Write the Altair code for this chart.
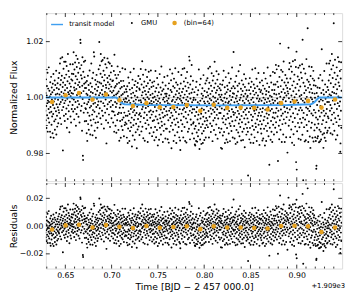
import altair as alt
import numpy as np
import pandas as pd

# ---------------- data ----------------
# observation grid: first exposure and cadence (64 exposures per orange bin)
t_start = 0.6285
cadence = 0.01455 / 64

# residuals (flux - transit model) in units of 1e-4, one list per 64-point bin
bin01 = [-47, 16, -81, 65, -30, -109, 7, 41, -63, -20, 89, -122, -11, 32, -74, -41, 108, -16, -89, 24, -54, 4, -122, 55, -34, -142, 12, 74, -51, -97, 36, -7, -68, 19, -128, 49, -27, -59, 84, -144, -14, 27, -85, -38, 61, -115, -4, 45, -78, 11, -49, 96, -132, -24, 34, -65, -104, 14, 51, -35, -8, -92, 70, -45]
bin02 = [30, -54, 88, 11, -24, 122, -74, 46, 140, -16, 63, -95, 20, 4, 78, -45, 144, -8, 38, -189, 54, -34, 103, 15, -65, 128, -20, 70, -84, 26, 45, -11, 128, -59, 8, 82, -39, 113, -108, 34, -4, 58, -77, 156, 19, -28, 95, -49, 12, 74, -124, 50, -15, 24, 119, -68, 5, 39, -89, 65, 16, -41, 85, -3]
bin03 = [61, -27, 119, 14, -50, 84, 162, -7, 36, -78, 100, 26, -41, 125, 51, -16, 76, -101, 150, 31, -59, 109, 9, 65, -35, 138, -12, 45, 89, -69, 19, 124, -24, 55, -89, 38, 104, 4, 207, 195, -47, 80, 16, 116, -30, 68, -119, 42, 144, -5, -208, -223, 92, 23, -54, 128, 49, -20, 73, -85, 34, 132, -38, 54]
bin04 = [-41, 34, -84, 14, -128, 59, -24, -155, 9, -54, 78, -95, -16, 45, -115, 27, -7, -65, 97, -36, 5, -132, 51, -81, 20, -30, 122, -100, -11, 39, -61, 69, -135, 16, -45, 89, -22, -78, 162, 0, 147, -51, -119, 31, -19, 63, -90, 11, -144, 47, -34, 81, -68, -4, 24, -108, 57, -27, -88, 38, -14, 101, -57, 8]
bin05 = [199, 54, -38, 115, 16, -74, 85, 156, -14, 50, -95, 130, 27, -47, 73, 11, 134, -65, 41, -20, 96, 3, -111, 61, 142, -30, 81, 20, -54, 119, -7, 45, -81, 35, -164, 107, 15, -41, 70, 140, -24, 55, -90, 8, 126, 32, -61, 78, -16, 47, 122, -105, 23, 65, -34, 90, -11, 39, -74, 113, 18, -49, 59, 1]
bin06 = [-27, 61, -89, 24, -51, 95, 7, -122, 153, 36, -63, -16, 81, -101, 41, -34, 11, -126, 70, -20, 51, -78, 19, 116, -54, -3, 88, -108, 30, -45, 63, -144, 14, -24, 105, -70, 47, -9, -128, 76, -38, 26, -84, 57, 4, -59, 126, -95, 34, -14, 82, -49, 16, -115, 65, -30, 43, -74, 9, 125, -65, 22, -41, 54]
bin07 = [20, -70, 45, -119, 8, 65, -41, -138, 30, -86, 96, -24, -58, 14, 77, -131, -34, 53, -95, 5, 115, -65, -16, 38, -81, 24, -47, -150, 59, -11, 89, -111, -27, 42, -74, 12, 128, -54, -20, 70, -126, 32, -38, 4, 84, -99, 18, -68, 49, -30, -156, 63, -7, 27, -89, 78, -51, 0, 103, -78, 15, -36, 58, -108]
bin08 = [54, -30, 92, -61, 16, 128, -41, 9, -95, 73, 34, -16, 156, -78, 45, -7, 108, -119, 24, 62, -47, 3, 84, -27, -128, 50, 19, -65, 126, -11, 38, -85, 68, 12, -36, 100, -54, 28, -132, 78, -4, 47, -70, 119, 22, -24, 58, -101, 7, 89, -45, 36, -19, 124, -81, 15, 65, -34, 4, -111, 81, 41, -57, 26]
bin09 = [-24, 68, -97, 11, -54, 85, -126, 30, -7, -78, 49, 122, -41, 19, -115, 61, -20, 4, -89, 97, -51, 34, -144, 14, 74, -65, -11, 46, -124, 24, -34, 111, -81, 8, -47, 63, -16, -105, 38, 138, -59, 0, -74, 51, -27, 81, -132, 20, -43, 57, -92, 27, -14, 101, -68, 12, -38, 41, -119, 70, -5, -84, 32, -22]
bin10 = [41, -84, 16, -34, 105, -122, 7, 59, -54, 24, -134, 78, -20, 35, -95, 3, 128, -45, -11, 54, -74, 89, -27, -154, 47, 14, -63, 113, -38, 19, -88, 68, -4, -128, 30, 95, -51, -16, 62, -108, 11, 132, -70, 38, -24, 81, -135, 20, -47, 51, -8, -97, 73, 27, -61, 4, 119, -78, -32, 43, -115, 59, -14, 22]
bin11 = [-126, -160, 34, 78, -54, 16, 108, -30, -92, 47, 9, -68, 130, -16, 59, -115, 27, -41, 85, -11, 132, -78, 38, 5, -128, 68, -24, 97, -47, 20, -133, 51, -7, 119, -61, 30, 81, -95, 14, -34, 63, 3, -84, 174, 41, 160, -20, -122, 74, 24, -51, 104, -4, -70, 45, 144, -27, 11, -101, 57, -14, 88, -65, 19]
bin12 = [-61, 27, -119, -14, 47, -84, -140, -38, -144, 20, -74, 65, -128, -24, 84, -97, -7, -130, 38, -51, 11, -111, 54, -34, -88, 128, -65, 4, -156, -20, 74, -122, 16, -47, 95, -78, -30, -138, 41, -11, -101, 24, 61, -68, -135, 34, -41, 108, -92, -16, 14, -124, 51, -57, 7, -81, 78, -27, -115, 30, -45, 89, -70, -3]
bin13 = [47, -54, 97, 14, -78, 35, 132, -20, 59, -115, 7, 81, -41, 24, 138, -65, 41, -11, -95, 70, 18, -30, 115, -74, 51, 3, -128, 89, -16, 32, -54, 105, 11, -88, 63, -24, 156, -45, 27, -7, 78, -105, 45, 15, -68, 122, -34, 54, -14, 92, -119, 22, 68, -47, 8, 111, -81, 38, -27, 61, -4, -97, 76, 30]
bin14 = [-27, 54, -152, 20, -84, 38, -11, -155, 74, -47, 16, -108, 89, -61, 4, 124, -38, -95, 27, -16, 65, -135, 41, -68, 11, 101, -51, -7, -122, 47, 24, -81, 70, -30, -132, 57, 8, -45, 115, -101, 14, -20, 81, -65, 34, -128, 51, 3, -74, 95, -41, 19, -92, 61, -14, 135, -57, 30, -115, 43, -24, 68, 191, -34]
bin15 = [41, -74, 11, -119, 61, -27, 84, -54, -138, 24, -7, 105, -88, 34, -43, 14, -132, 70, -20, 49, -97, 5, 122, -65, -30, 78, -111, 19, -51, 144, -78, 27, -14, 59, -126, 38, -38, 89, -61, 0, -95, 51, 16, -124, 74, -24, 32, -84, 111, -47, 8, -150, 65, -16, 41, -68, 95, -34, 22, -105, 54, -11, -81, 30]
bin16 = [-47, 34, -95, -251, 16, -61, 78, -24, 54, -122, 7, 97, -81, -11, 41, -134, 65, -34, 20, -105, 84, -54, -4, 128, -74, 27, -41, 51, -135, 11, 74, -88, -20, 38, -115, 61, -30, 132, -65, 3, -78, 45, -16, 95, -128, 24, -51, 68, -7, -97, 35, -38, 115, -70, 14, -27, 57, -142, 22, 81, -57, -14, 47, -84]
bin17 = [-38, 54, -101, 16, -68, 88, -24, -126, 41, -11, 70, -119, 27, -54, 115, -84, 7, -41, 59, -144, 20, -16, 95, -74, 38, -128, 51, -30, 11, -92, 78, -47, 135, -65, 24, -7, -111, 47, -34, 65, -213, 14, -81, 34, -20, 105, -124, 3, -57, 81, -95, 30, -14, 54, -132, 19, -43, 119, -70, 8, -27, 74, -105, 41]
bin18 = [54, -47, 115, 16, -81, 74, -27, 144, -61, 38, -11, 128, -97, 24, 84, -41, 7, -200, 65, -20, 140, -74, 41, -122, 101, 11, -54, 220, 30, -88, 68, -16, 126, -38, 47, -132, 89, 3, -68, 119, -30, 20, -105, 57, 156, -51, 27, -7, 81, -132, 43, -24, 108, -65, 14, 70, -115, 34, -43, 95, -11, 61, -170, 49]
bin19 = [-27, 81, 41, 205, -74, 24, 128, -54, 150, -16, 57, -115, 95, 11, -41, 138, -88, 34, -7, 119, -135, 70, 19, -61, 156, -30, 49, -105, 84, 3, -144, 108, 27, -47, 160, -78, 61, -14, 135, -205, 38, 190, -232, 16, -95, 74, -34, 101, -65, 7, 132, -122, 51, -20, 89, -81, 30, 140, -51, 65, -11, -126, 115, 20]
bin20 = [34, -65, 95, -20, 144, -108, 232, 14, -47, -271, 78, -30, 128, -81, 41, 7, -132, 65, -54, 111, 20, -128, 51, -11, 162, -74, 27, -38, 88, -95, 272, -16, 59, -135, 11, 81, -61, 135, -24, 43, -115, 70, -7, -156, 101, 24, -84, 54, -34, 132, -68, 16, 38, -122, 89, -43, 4, 115, -138, 62, -27, 78, -101, 30]
bin21 = [-81, 14, -128, -41, 54, -144, -61, -245, -235, 24, -101, -20, -140, 41, -74, -135, 7, -92, 70, -47, -160, -14, -115, 34, -68, -156, 81, -30, -122, -7, -150, 16, -54, 173, -95, -34, 61, -132, -11, -81, 27, -180, -47, 11, -128, 95, -65, -144, -24, 47, -108, -4, -155, -57, 20, -88, 122, -41, -126, -16, 38, -119, -68, 3]
bin22 = [27, -74, 61, -16, 122, -108, 11, 81, -47, 132, -27, -128, 51, 7, -81, 101, -38, 156, -61, 20, -132, 70, -11, 115, -95, 38, 266, -54, 16, -119, 89, -24, 135, -74, 47, -7, -150, 65, 14, -88, 108, -41, 30, -135, 78, -20, 144, -65, 4, 54, -101, 128, -30, 41, -78, 95, -14, -194, -164, 68, -47, 126, -108, 24]

# transit model curve (blue line)
model_t = [0.6285, 0.7051, 0.7072, 0.7095, 0.7117, 0.7138, 0.7400, 0.8140, 0.8900, 0.9152, 0.9174, 0.9196, 0.9218, 0.9240, 0.9485]
model_f = [1.0000, 1.0000, 0.9993, 0.9985, 0.9979, 0.9976, 0.9973, 0.9972, 0.9973, 0.9976, 0.9979, 0.9985, 0.9993, 1.0000, 1.0000]

# binned points (orange)
bin_t = [0.6357, 0.6503, 0.6648, 0.6794, 0.6939, 0.7085, 0.7230, 0.7376, 0.7521, 0.7667, 0.7812,
         0.7958, 0.8103, 0.8249, 0.8394, 0.8540, 0.8685, 0.8831, 0.8976, 0.9122, 0.9267, 0.9413]
bin_flux = [0.9984, 1.0008, 1.0016, 0.9993, 1.0011, 0.9990, 0.9970, 0.9980, 0.9965, 0.9966, 0.9973,
            0.9953, 0.9974, 0.9963, 0.9964, 0.9963, 0.9957, 0.9980, 0.9986, 0.9988, 0.9964, 0.9993]
bin_resid = [-0.0024, 0.0005, 0.0010, -0.0010, 0.0007, -0.0005, -0.0014, 0.0000, -0.0012, -0.0007, -0.0002,
             -0.0022, -0.0002, -0.0010, -0.0010, -0.0014, -0.0017, 0.0000, 0.0002, -0.0002, -0.0043, -0.0010]

# tick values
x_major = [0.65, 0.70, 0.75, 0.80, 0.85, 0.90]
x_minor = [0.63, 0.64, 0.66, 0.67, 0.68, 0.69, 0.71, 0.72, 0.73, 0.74, 0.76, 0.77, 0.78, 0.79,
           0.81, 0.82, 0.83, 0.84, 0.86, 0.87, 0.88, 0.89, 0.91, 0.92, 0.93, 0.94]
top_y_major = [0.98, 1.00, 1.02]
top_y_minor = [0.99, 1.01]
bot_y_major = [-0.02, 0.00, 0.02]
bot_y_minor = [-0.01, 0.01]

series_names = ["transit model", "GMU", "(bin=64)"]

# ---------------- tables ----------------
all_bins = [bin01, bin02, bin03, bin04, bin05, bin06, bin07, bin08, bin09, bin10, bin11,
            bin12, bin13, bin14, bin15, bin16, bin17, bin18, bin19, bin20, bin21, bin22]
resid_e4 = [v for b in all_bins for v in b]
times = t_start + cadence * np.arange(len(resid_e4))
resid = np.array(resid_e4) * 1e-4
flux = np.interp(times, model_t, model_f) + resid

pts = pd.DataFrame({"t": times, "flux": flux, "resid": resid, "series": "GMU"})
bins_df = pd.DataFrame({"t": bin_t, "flux": bin_flux, "resid": bin_resid, "series": "(bin=64)"})
model_df = pd.DataFrame({"t": model_t, "flux": model_f})

# ---------------- style ----------------
BLUE = "#3f9ff0"
ORANGE = "#e6a11f"
FONT = "DejaVu Sans"
W, H1, H2 = 305, 173, 88
LINE_SYM = "M-1,-0.12H1V0.12H-1Z"
DOT = 4

xs = alt.Scale(domain=[0.629, 0.949], nice=False, zero=False)
ys_top = alt.Scale(domain=[0.9701, 1.0302], nice=False, zero=False)
ys_bot = alt.Scale(domain=[-0.0306, 0.031], nice=False, zero=False)

ax_common = dict(ticks=False, domain=False, grid=False, labelFontSize=8, labelFont=FONT,
                 labelColor="black", titleFont=FONT, titleFontSize=9.5, titleFontWeight="normal",
                 titleColor="black", format=".2f")
yax_top = alt.Axis(values=top_y_major, title="Normalized Flux", labelPadding=3, titleX=-28, **ax_common)
yax_bot = alt.Axis(values=bot_y_major, title="Residuals", labelPadding=3, titleX=-28, **ax_common)
xax_bot = alt.Axis(values=x_major, title="Time [BJD − 2 457 000.0]", labelPadding=3, titlePadding=3, **ax_common)

leg = alt.Legend(title=None, orient="top-left", direction="horizontal", offset=5, padding=0,
                 labelFontSize=7, labelFont=FONT, labelColor="black", labelOffset=6,
                 columnPadding=14, symbolStrokeWidth=0)
enc_color = alt.Color("series:N", scale=alt.Scale(domain=series_names, range=[BLUE, "black", ORANGE]), legend=leg)
enc_shape = alt.Shape("series:N", scale=alt.Scale(domain=series_names, range=[LINE_SYM, "circle", "circle"]), legend=leg)
enc_size = alt.Size("series:N", scale=alt.Scale(type="ordinal", domain=series_names, range=[150, DOT, 22]), legend=leg)


def tick_layers(xaxis, yscale, yaxis, H, ymaj, ymin):
    layers = []
    for vals, L in ((x_major, 4), (x_minor, 2)):
        base = alt.Chart(pd.DataFrame({"v": vals})).mark_rule(color="black", strokeWidth=0.8)
        layers.append(base.encode(x=alt.X("v:Q", scale=xs, axis=xaxis), y=alt.value(0), y2=alt.value(L)))
        layers.append(base.encode(x=alt.X("v:Q", scale=xs, axis=xaxis), y=alt.value(H), y2=alt.value(H - L)))
    for vals, L in ((ymaj, 4), (ymin, 2)):
        base = alt.Chart(pd.DataFrame({"v": vals})).mark_rule(color="black", strokeWidth=0.8)
        layers.append(base.encode(y=alt.Y("v:Q", scale=yscale, axis=yaxis), x=alt.value(0), x2=alt.value(L)))
        layers.append(base.encode(y=alt.Y("v:Q", scale=yscale, axis=yaxis), x=alt.value(W), x2=alt.value(W - L)))
    return layers


# ---------------- top panel ----------------
top_ref = alt.Chart(pd.DataFrame({"v": [1.0]})).mark_rule(color="#d4d4d4", strokeWidth=1.2).encode(
    y=alt.Y("v:Q", scale=ys_top, axis=yax_top))
top_pts = alt.Chart(pts).mark_point(filled=True, opacity=1, strokeWidth=0, clip=True).encode(
    x=alt.X("t:Q", scale=xs, axis=None), y=alt.Y("flux:Q", scale=ys_top, axis=yax_top),
    color=enc_color, shape=enc_shape, size=enc_size)
top_model = alt.Chart(model_df).mark_line(color=BLUE, strokeWidth=2, clip=True).encode(
    x=alt.X("t:Q", scale=xs, axis=None), y=alt.Y("flux:Q", scale=ys_top, axis=yax_top))
top_bins = alt.Chart(bins_df).mark_point(filled=True, opacity=1, strokeWidth=0).encode(
    x=alt.X("t:Q", scale=xs, axis=None), y=alt.Y("flux:Q", scale=ys_top, axis=yax_top),
    color=enc_color, shape=enc_shape, size=enc_size)
top = alt.layer(top_ref, top_pts, top_model, top_bins,
                *tick_layers(None, ys_top, yax_top, H1, top_y_major, top_y_minor)).properties(width=W, height=H1)

# ---------------- bottom panel ----------------
bot_ref = alt.Chart(pd.DataFrame({"v": [0.0]})).mark_rule(color="#d4d4d4", strokeWidth=1.2).encode(
    y=alt.Y("v:Q", scale=ys_bot, axis=yax_bot))
bot_pts = alt.Chart(pts).mark_point(filled=True, opacity=1, strokeWidth=0, clip=True, shape="circle",
                                    size=DOT, color="black").encode(
    x=alt.X("t:Q", scale=xs, axis=xax_bot), y=alt.Y("resid:Q", scale=ys_bot, axis=yax_bot))
bot_bins = alt.Chart(bins_df).mark_point(filled=True, opacity=1, strokeWidth=0, shape="circle",
                                         size=22, color=ORANGE).encode(
    x=alt.X("t:Q", scale=xs, axis=xax_bot), y=alt.Y("resid:Q", scale=ys_bot, axis=yax_bot))
offset_txt = alt.Chart(pd.DataFrame({"txt": ["+1.909e3"]})).mark_text(
    align="right", baseline="middle", fontSize=7, font=FONT, color="black").encode(
    text="txt:N", x=alt.value(W + 3), y=alt.value(H2 + 18))
bot = alt.layer(bot_ref, bot_pts, bot_bins, offset_txt,
                *tick_layers(xax_bot, ys_bot, yax_bot, H2, bot_y_major, bot_y_minor)).properties(width=W, height=H2)

chart = alt.vconcat(top, bot, spacing=0).properties(
    padding={"left": 0, "top": 0, "right": 0, "bottom": 0}
).configure_view(stroke="black", strokeWidth=1).configure(font=FONT)

chart.save("out.html", embed_options={"renderer": "svg", "actions": False})
